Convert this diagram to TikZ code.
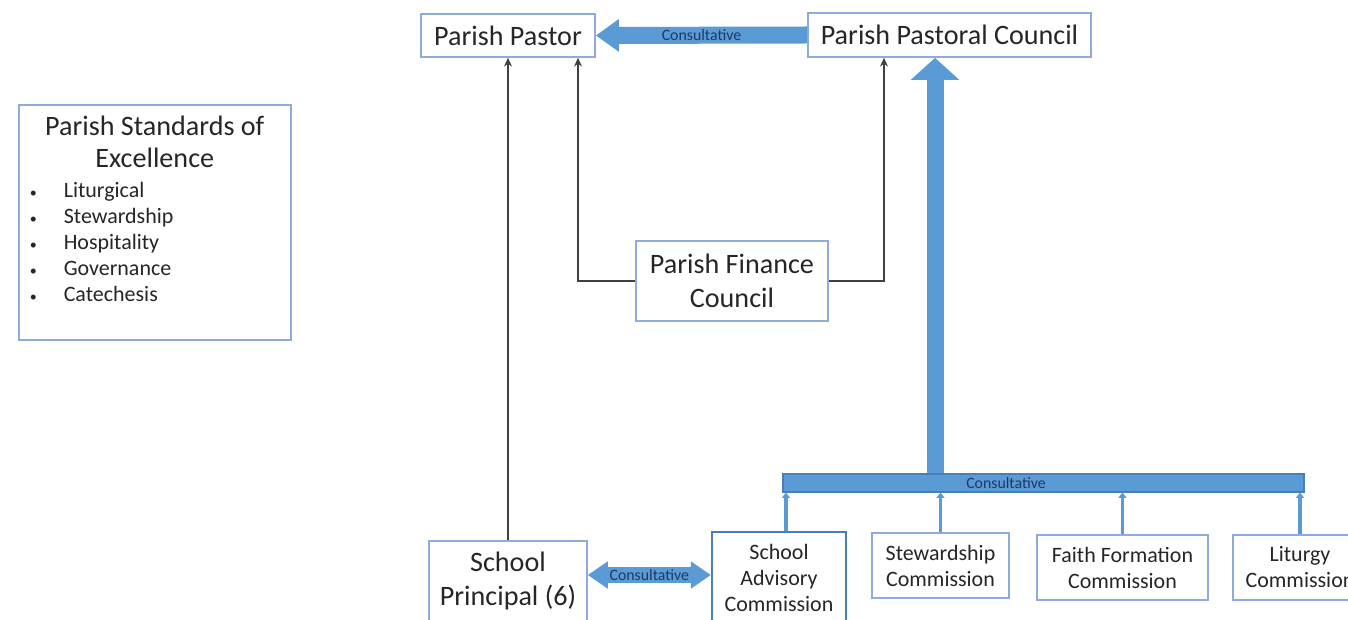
\documentclass[tikz,border=0pt]{standalone}
\usepackage{fontspec}
\setmainfont{Carlito}
\usetikzlibrary{arrows.meta}

\definecolor{boxline}{HTML}{8FAADC}
\definecolor{sacline}{HTML}{4A7EBB}
\definecolor{flowblue}{HTML}{5B9BD5}
\definecolor{inktext}{HTML}{262626}
\definecolor{flowtext}{HTML}{1F3864}
\definecolor{wire}{HTML}{404040}

\newcommand{\stditem}[1]{\makebox[0.6cm][l]{\hspace*{-0.08cm}\fontsize{8}{8}\selectfont\textbullet}#1}

\tikzset{
  orgbox/.style={draw=boxline, line width=0.9pt, fill=white, text=inktext, align=center, inner sep=2pt},
  bigbox/.style={orgbox, font=\fontsize{16}{19.5}\selectfont},
  combox/.style={orgbox, font=\fontsize{12.5}{14.8}\selectfont},
  flowlabel/.style={font=\fontsize{9}{10}\selectfont, text=flowtext, inner sep=0pt},
  flow/.style={draw=flowblue, line width=0.34cm, -{Triangle[length=0.46cm,width=0.62cm]}},
  wireline/.style={draw=wire, line width=1.5pt, -{Stealth[length=5pt,width=4.5pt]}},
  tie/.style={draw=flowblue, line width=1.8pt, -{Triangle[length=3pt,width=4.5pt]}}
}

\begin{document}
\begin{tikzpicture}
  \clip (0,0) rectangle (26.96,12.38);
  \fill[white] (0,0) rectangle (26.96,12.38);

  % top row
  \node[bigbox, minimum width=3.48cm, minimum height=0.86cm] (pastor) at (10.16,11.67) {Parish Pastor};
  \node[bigbox, minimum width=5.66cm, minimum height=0.88cm] (council) at (18.99,11.68) {Parish Pastoral Council};

  % standards list
  \node[orgbox, anchor=north west, minimum width=5.44cm, minimum height=4.7cm,
        inner xsep=0.3cm, inner ysep=0.22cm, align=left] (standards) at (0.36,10.3) {%
    \parbox[t][4.26cm][t]{4.84cm}{%
      \centering\fontsize{16}{18.5}\selectfont Parish Standards of\\ Excellence\par
      \raggedright\fontsize{12.5}{14.8}\selectfont
      \vspace{2pt}
      \stditem{Liturgical}\\
      \stditem{Stewardship}\\
      \stditem{Hospitality}\\
      \stditem{Governance}\\
      \stditem{Catechesis}}};

  % finance
  \node[bigbox, minimum width=3.84cm, minimum height=1.6cm] (finance) at (14.64,6.76) {Parish Finance\\ Council};

  % bottom row
  \node[bigbox, minimum width=3.16cm, minimum height=1.6cm] (principal) at (10.16,0.76) {School\\ Principal (6)};
  \node[combox, draw=sacline, line width=1.3pt, minimum width=2.68cm, minimum height=1.84cm] (advisory) at (15.58,0.82) {School\\ Advisory\\ Commission};
  \node[combox, minimum width=2.74cm, minimum height=1.3cm] (stewardship) at (18.81,1.07) {Stewardship\\ Commission};
  \node[combox, minimum width=3.42cm, minimum height=1.3cm] (faith) at (22.45,1.03) {Faith Formation\\ Commission};
  \node[combox, minimum width=2.68cm, minimum height=1.3cm] (liturgy) at (26.0,1.03) {Liturgy\\ Commission};

  % consultative bar
  \node[draw=sacline, line width=0.6pt, fill=flowblue, minimum width=10.42cm, minimum height=0.36cm, inner sep=0pt] (bar) at (20.87,2.72) {};
  \node[flowlabel] (barlabel) at ([xshift=-0.75cm]bar.center) {Consultative};

  % connectors
  \draw[flow] (council.west) -- (pastor.east) node[flowlabel, midway] {Consultative};
  \coordinate (riser) at (18.7,6);
  \draw[flow, -{Triangle[length=0.44cm,width=0.94cm]}] (bar.north -| riser) -- (council.south -| riser);
  \coordinate (dbl) at (0,0.88);
  \draw[flow, line width=0.32cm, {Triangle[length=0.4cm,width=0.52cm]}-{Triangle[length=0.4cm,width=0.52cm]}]
    (principal.east |- dbl) -- (advisory.west |- dbl) node[flowlabel, midway] {Consultative};

  \draw[tie] ([xshift=0.14cm]advisory.north) -- ([xshift=0.14cm]advisory.north |- bar.south);
  \draw[tie] (stewardship.north) -- (stewardship.north |- bar.south);
  \draw[tie] (faith.north) -- (faith.north |- bar.south);
  \draw[tie] (liturgy.north) -- (liturgy.north |- bar.south);

  \draw[wireline] (principal.north) -- (pastor.south);
  \draw[wireline] (finance.west) -| ([xshift=1.4cm]pastor.south);
  \draw[wireline] (finance.east) -| ([xshift=-1.31cm]council.south);
\end{tikzpicture}
\end{document}
